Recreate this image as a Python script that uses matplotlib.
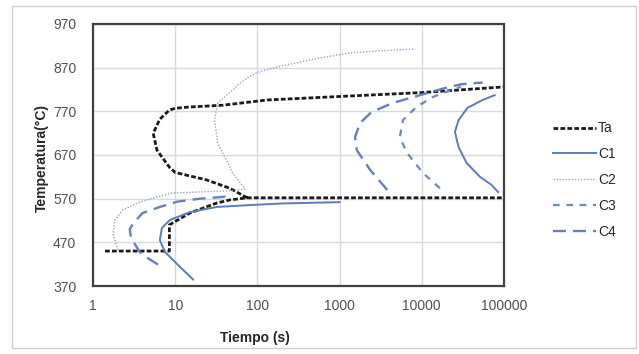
import numpy as np
import matplotlib
matplotlib.use('Agg')
import matplotlib.pyplot as plt
from matplotlib.patches import Rectangle

plt.rcParams['font.family'] = ['Liberation Sans', 'DejaVu Sans']

nan = np.nan

# Ta: lower path, horizontal at ~570, then upper loop (segments split by nan)
ta_time = [1.4, 8.5, 8.5, 15, 32, 46, 75, 1000, 10000, 100000, nan,
           75, 46, 24, 10, 8.5, 6.0, 5.4, 6.5, 8.5, 10, 15, 38, 131, 1000, 10000, 100000]
ta_temp = [450, 450, 510, 537, 560, 567, 572, 572, 572, 572, nan,
           572, 594, 613, 630, 642, 681, 720, 752, 773, 777, 780, 784, 796, 804, 813, 826]

c1_time = [16.5, 11.4, 7.5, 6.5, 6.9, 8.6, 15, 32, 75, 200, 1000, nan,
           85000, 70000, 51000, 35000, 28000, 25300, 28000, 36000, 55000, 77000]
c1_temp = [385, 414, 448, 475, 503, 521, 539, 551, 555, 559, 562, nan,
           585, 602, 620, 652, 688, 723, 750, 778, 796, 807]

c2_time = [2.0, 1.75, 1.85, 2.3, 3.7, 6, 9.4, 24, 50, 71, 50, 33, 30, 33, 50, 62, 80, 110,
           200, 500, 1340, 3380, 8300]
c2_temp = [452, 491, 521, 544, 562, 574, 583, 586, 588, 592, 629, 697, 750, 789, 819, 835, 850, 862,
           874, 890, 904, 909, 913]

c3_time = [16600, 10300, 6600, 5400, 5900, 8600, 13700, 22000, 30000]
c3_temp = [594, 629, 675, 711, 750, 780, 803, 818, 826]

c4_time = [6.2, 4.8, 3.7, 2.9, 2.8, 3.1, 4.0, 6.5, 10.5, 20, 38, 50, nan,
           3800, 2350, 1620, 1540, 1770, 2430, 4400, 9500, 18000, 30000, 55000]
c4_temp = [419, 432, 448, 480, 500, 514, 537, 551, 563, 570, 574, 578, nan,
           590, 636, 681, 711, 743, 768, 789, 807, 822, 832, 836]

yticks = [370, 470, 570, 670, 770, 870, 970]
xticks = [1, 10, 100, 1000, 10000, 100000]
xlabels = ['1', '10', '100', '1000', '10000', '100000']

W, H = 639, 354
fig = plt.figure(figsize=(W / 100, H / 100), dpi=100)
fig.patches.append(Rectangle((12 / W, 1 - 348 / H), 624 / W, 342 / H, transform=fig.transFigure,
                             fill=False, edgecolor='#d0d0d0', linewidth=1))
ax = fig.add_axes([93 / W, 1 - 286 / H, 411 / W, 262 / H])

ax.plot(ta_time, ta_temp, color='#1a1a1a', lw=2.0, dashes=(1.7, 0.8), label='Ta')
ax.plot(c1_time, c1_temp, color='#5b7bbd', lw=1.4, label='C1')
ax.plot(c2_time, c2_temp, color='#8fa7d6', lw=1.0, dashes=(1, 1.2), label='C2')
ax.plot(c3_time, c3_temp, color='#7088bb', lw=1.6, dashes=(3, 3), label='C3')
ax.plot(c4_time, c4_temp, color='#6680b8', lw=1.7, dashes=(5.5, 3), label='C4')

ax.set_xscale('log')
ax.set_xlim(1, 100000)
ax.set_ylim(370, 970)
ax.set_xticks(xticks)
ax.set_xticklabels(xlabels)
ax.xaxis.set_minor_locator(matplotlib.ticker.NullLocator())
ax.set_yticks(yticks)
ax.tick_params(length=0, labelsize=10, colors='#505050', pad=12)
ax.tick_params(axis='x', pad=9)
ax.grid(True, color='#d9d9d9', lw=1)
ax.set_axisbelow(True)
for s in ax.spines.values():
    s.set_color('#404040')
    s.set_linewidth(1.6)

fig.text(255 / W, 1 - 338 / H, 'Tiempo (s)', ha='center', va='center',
         fontsize=10, fontweight='bold', color='#262626')
fig.text(42 / W, 1 - 158 / H, 'Temperatura(°C)', ha='center', va='center', rotation=90,
         fontsize=10, fontweight='bold', color='#262626')

ax.legend(loc='center left', bbox_to_anchor=(553 / W, 1 - 180 / H), bbox_transform=fig.transFigure,
          frameon=False, fontsize=10, handlelength=3.1, handletextpad=0.15, labelspacing=0.85,
          borderpad=0, borderaxespad=0, labelcolor='#262626')

fig.savefig('out.png', dpi=100)
